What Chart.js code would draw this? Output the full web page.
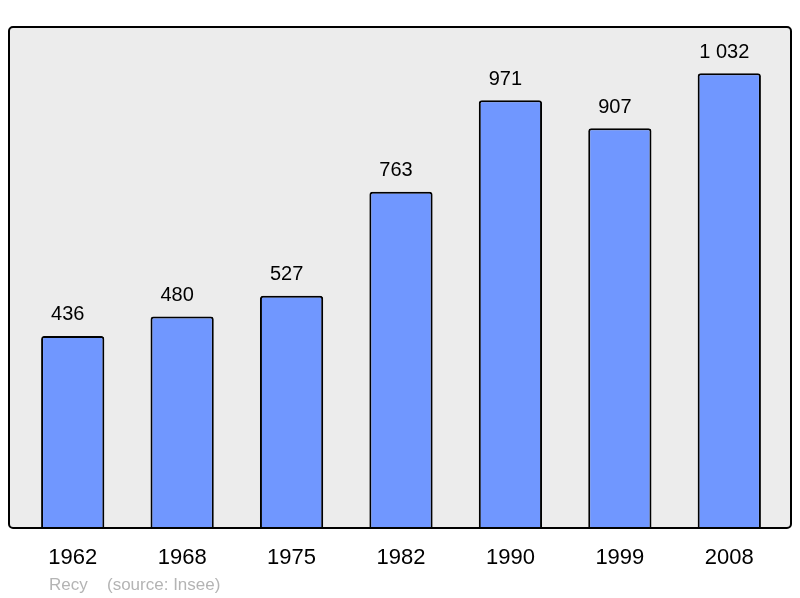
<!DOCTYPE html>
<html>
<head>
<meta charset="utf-8">
<script src="https://cdn.jsdelivr.net/npm/chart.js@4"></script>
<style>
  html, body { margin: 0; padding: 0; background: #fff; }
  #wrap { width: 800px; height: 598px; }
</style>
</head>
<body>
<div id="wrap"><canvas id="pop"></canvas></div>
<script>
// population by census year
var years = ['1962', '1968', '1975', '1982', '1990', '1999', '2008'];
var population = [436, 480, 527, 763, 971, 907, 1032];
var yMax = 1137;
var townName = 'Recy';
var sourceNote = '(source: Insee)';

function fmt(n) {
  return String(n).replace(/\B(?=(\d{3})+(?!\d))/g, ' ');
}

// grey panel with black rounded frame behind the bars
var framePlugin = {
  id: 'frame',
  beforeDraw: function (chart) {
    var a = chart.chartArea, c = chart.ctx;
    var x = a.left - 9, y = a.top, w = a.right + 7 - x, h = a.bottom - a.top;
    c.save();
    c.beginPath();
    c.roundRect(x, y, w, h, 4);
    c.fillStyle = '#ececec';
    c.fill();
    c.restore();
  },
  afterDatasetsDraw: function (chart) {
    var a = chart.chartArea, c = chart.ctx;
    var x = a.left - 9, y = a.top, w = a.right + 7 - x, h = a.bottom - a.top;
    c.save();
    c.beginPath();
    c.roundRect(x, y, w, h, 4);
    c.lineWidth = 2;
    c.strokeStyle = '#000';
    c.stroke();
    c.restore();
  }
};

// value labels over bars + footer
var labelPlugin = {
  id: 'labels',
  afterDraw: function (chart) {
    var c = chart.ctx;
    var meta = chart.getDatasetMeta(0);
    c.save();
    c.fillStyle = '#000';
    c.font = '20px "Liberation Sans", Arial, sans-serif';
    c.textAlign = 'center';
    c.textBaseline = 'middle';
    meta.data.forEach(function (bar, i) {
      c.fillText(fmt(population[i]), bar.x - 5, bar.y - 21);
    });
    c.fillStyle = '#b4b4b4';
    c.font = '17px "Liberation Sans", Arial, sans-serif';
    c.textAlign = 'left';
    c.fillText(townName, 49, 585);
    c.fillText(sourceNote, 107, 585);
    c.restore();
  }
};

new Chart(document.getElementById('pop'), {
  type: 'bar',
  data: {
    labels: years,
    datasets: [{
      data: population,
      backgroundColor: '#7097ff',
      borderColor: '#000',
      borderWidth: 2,
      borderRadius: 3,
      borderSkipped: 'bottom',
      barPercentage: 0.578,
      categoryPercentage: 1
    }]
  },
  options: {
    responsive: true,
    maintainAspectRatio: false,
    animation: false,
    layout: { padding: { left: 18, right: 16, top: 27, bottom: 0 } },
    plugins: {
      legend: { display: false },
      tooltip: { enabled: false }
    },
    scales: {
      x: {
        grid: { display: false, drawTicks: false },
        border: { display: false },
        ticks: {
          color: '#000',
          padding: 17,
          font: { size: 22, family: '"Liberation Sans", Arial, sans-serif' }
        },
        afterFit: function (s) { s.height = 70; }
      },
      y: {
        display: false,
        min: 0,
        max: yMax
      }
    }
  },
  plugins: [framePlugin, labelPlugin]
});
</script>
</body>
</html>
